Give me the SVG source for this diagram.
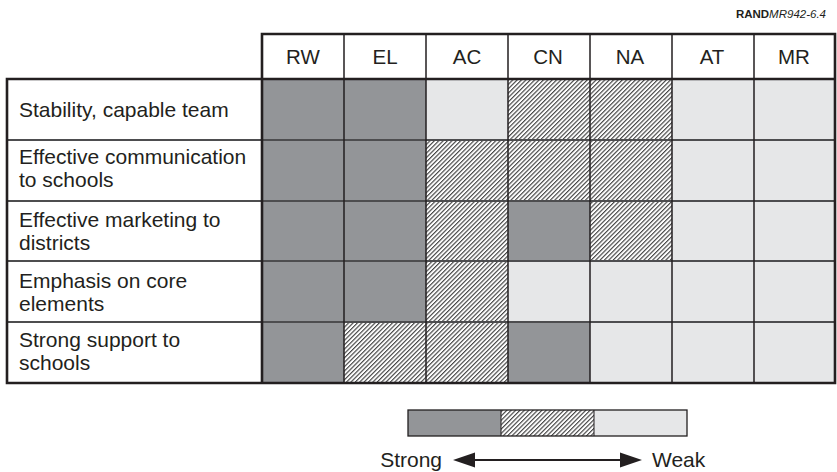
<svg xmlns="http://www.w3.org/2000/svg" width="837" height="472" viewBox="0 0 837 472">
  <style>
    text { font-family: "Liberation Sans", Arial, sans-serif; fill: #231f20; }
    .lbl { font-size: 21px; }
    .hdr { font-size: 20.5px; text-anchor: middle; }
    .tag { font-size: 11.5px; text-anchor: end; }
    .s { fill: #939598; }
    .m { fill: url(#hatch); }
    .w { fill: #e6e7e8; }
    .frame { stroke: #231f20; stroke-width: 2.6; fill: none; stroke-linecap: square; }
    .col { stroke: #231f20; stroke-width: 1.5; fill: none; }
    .row { stroke: #4d4d4f; stroke-width: 1.8; fill: none; }
  </style>
  <defs>
    <!-- diagonal hatch used for the middle rating -->
    <pattern id="hatch" patternUnits="userSpaceOnUse" width="3.1" height="3.1" patternTransform="rotate(45)">
      <rect width="3.1" height="3.1" fill="#ffffff"/>
      <line x1="0.6" y1="0" x2="0.6" y2="3.1" stroke="#333333" stroke-width="1.05"/>
    </pattern>
  </defs>

  <rect width="837" height="472" fill="#ffffff"/>

  <text class="tag" x="826" y="18"><tspan font-weight="bold">RAND</tspan><tspan font-style="italic">MR942-6.4</tspan></text>

  <!-- column headers -->
  <g id="header">
    <rect x="262" y="34" width="573" height="45" fill="#ffffff"/>
    <text class="hdr" x="303" y="64">RW</text>
    <text class="hdr" x="385" y="64">EL</text>
    <text class="hdr" x="467" y="64">AC</text>
    <text class="hdr" x="548" y="64">CN</text>
    <text class="hdr" x="630" y="64">NA</text>
    <text class="hdr" x="712" y="64">AT</text>
    <text class="hdr" x="794" y="64">MR</text>
  </g>

  <!-- row labels -->
  <g id="labels">
    <rect x="7" y="79" width="255" height="304" fill="#ffffff"/>
    <text class="lbl" x="19" y="117">Stability, capable team</text>
    <text class="lbl" x="19" y="164">Effective communication</text>
    <text class="lbl" x="19" y="187">to schools</text>
    <text class="lbl" x="19" y="227">Effective marketing to</text>
    <text class="lbl" x="19" y="250">districts</text>
    <text class="lbl" x="19" y="288">Emphasis on core</text>
    <text class="lbl" x="19" y="311">elements</text>
    <text class="lbl" x="19" y="347">Strong support to</text>
    <text class="lbl" x="19" y="370">schools</text>
  </g>

  <!-- rating cells, columns RW EL AC CN NA AT MR -->
  <g id="cells">
    <g id="row-stability">
      <rect class="s" x="262" y="79" width="82" height="61"/>
      <rect class="s" x="344" y="79" width="82" height="61"/>
      <rect class="w" x="426" y="79" width="82" height="61"/>
      <rect class="m" x="508" y="79" width="82" height="61"/>
      <rect class="m" x="590" y="79" width="82" height="61"/>
      <rect class="w" x="672" y="79" width="82" height="61"/>
      <rect class="w" x="754" y="79" width="81" height="61"/>
    </g>
    <g id="row-communication">
      <rect class="s" x="262" y="140" width="82" height="61"/>
      <rect class="s" x="344" y="140" width="82" height="61"/>
      <rect class="m" x="426" y="140" width="82" height="61"/>
      <rect class="m" x="508" y="140" width="82" height="61"/>
      <rect class="m" x="590" y="140" width="82" height="61"/>
      <rect class="w" x="672" y="140" width="82" height="61"/>
      <rect class="w" x="754" y="140" width="81" height="61"/>
    </g>
    <g id="row-marketing">
      <rect class="s" x="262" y="201" width="82" height="60"/>
      <rect class="s" x="344" y="201" width="82" height="60"/>
      <rect class="m" x="426" y="201" width="82" height="60"/>
      <rect class="s" x="508" y="201" width="82" height="60"/>
      <rect class="m" x="590" y="201" width="82" height="60"/>
      <rect class="w" x="672" y="201" width="82" height="60"/>
      <rect class="w" x="754" y="201" width="81" height="60"/>
    </g>
    <g id="row-core">
      <rect class="s" x="262" y="261" width="82" height="61"/>
      <rect class="s" x="344" y="261" width="82" height="61"/>
      <rect class="m" x="426" y="261" width="82" height="61"/>
      <rect class="w" x="508" y="261" width="82" height="61"/>
      <rect class="w" x="590" y="261" width="82" height="61"/>
      <rect class="w" x="672" y="261" width="82" height="61"/>
      <rect class="w" x="754" y="261" width="81" height="61"/>
    </g>
    <g id="row-support">
      <rect class="s" x="262" y="322" width="82" height="61"/>
      <rect class="m" x="344" y="322" width="82" height="61"/>
      <rect class="m" x="426" y="322" width="82" height="61"/>
      <rect class="s" x="508" y="322" width="82" height="61"/>
      <rect class="w" x="590" y="322" width="82" height="61"/>
      <rect class="w" x="672" y="322" width="82" height="61"/>
      <rect class="w" x="754" y="322" width="81" height="61"/>
    </g>
  </g>

  <!-- grid rules -->
  <g id="grid">
    <path class="row" d="M7 140H835M7 201H835M7 261H835M7 322H835"/>
    <path class="col" d="M344 34V383M426 34V383M508 34V383M590 34V383M672 34V383M754 34V383"/>
    <path class="frame" d="M262 79V34H835V383H7V79H835M262 79V383"/>
  </g>

  <!-- legend -->
  <g id="legend">
    <rect class="s" x="408" y="410" width="93" height="26"/>
    <rect class="m" x="501" y="410" width="93" height="26"/>
    <rect class="w" x="594" y="410" width="93" height="26"/>
    <path d="M501 410V436M594 410V436" stroke="#231f20" stroke-width="1" fill="none"/>
    <rect x="408" y="410" width="279" height="26" fill="none" stroke="#231f20" stroke-width="1.3"/>
    <text class="lbl" x="442" y="467" text-anchor="end">Strong</text>
    <text class="lbl" x="652" y="467">Weak</text>
    <line x1="470" y1="460" x2="625" y2="460" stroke="#231f20" stroke-width="2"/>
    <polygon points="453,460 475,452.5 475,467.5" fill="#231f20"/>
    <polygon points="642,460 620,452.5 620,467.5" fill="#231f20"/>
  </g>
</svg>
